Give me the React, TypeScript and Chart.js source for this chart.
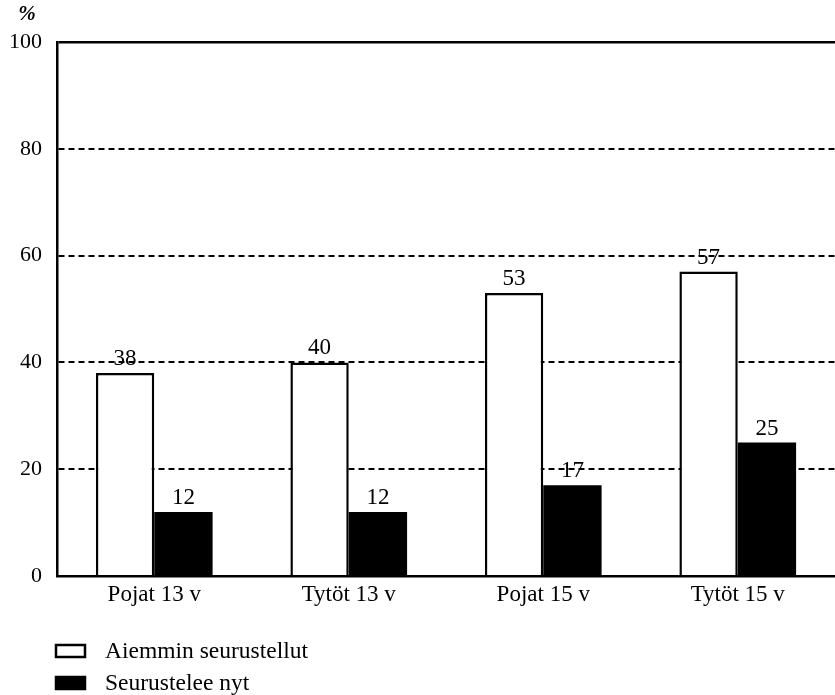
import React, { useEffect, useRef } from "react";
import { Chart, registerables } from "chart.js";

Chart.register(...registerables);

const categories = ["Pojat 13 v", "Tytöt 13 v", "Pojat 15 v", "Tytöt 15 v"];
const seriesNames = ["Aiemmin seurustellut", "Seurustelee nyt"];
const earlier = [38, 40, 53, 57];
const now = [12, 12, 17, 25];
const yTicks = [0, 20, 40, 60, 80, 100];
const unitLabel = "%";

const FONT = "'Liberation Serif', 'Times New Roman', serif";

const valueLabels = {
  id: "valueLabels",
  afterDatasetsDraw(chart: any) {
    const ctx = chart.ctx;
    ctx.save();
    ctx.fillStyle = "#000";
    ctx.font = `23px ${FONT}`;
    ctx.textAlign = "center";
    ctx.textBaseline = "alphabetic";
    chart.data.datasets.forEach((ds: any, di: number) => {
      const meta = chart.getDatasetMeta(di);
      meta.data.forEach((bar: any, i: number) => {
        ctx.fillText(String(ds.data[i]), bar.x, bar.y - 8);
      });
    });
    ctx.restore();
  },
};

const customLegend = {
  id: "customLegend",
  afterDraw(chart: any) {
    const ctx = chart.ctx;
    ctx.save();
    ctx.fillStyle = "#000";
    ctx.font = `bold italic 21px ${FONT}`;
    ctx.textAlign = "center";
    ctx.textBaseline = "middle";
    ctx.fillText(unitLabel, 27, 15);

    const rows = [651, 683];
    chart.data.datasets.forEach((ds: any, di: number) => {
      const cy = rows[di];
      ctx.fillStyle = ds.backgroundColor;
      ctx.fillRect(56, cy - 6, 29, 12);
      ctx.strokeStyle = "#000";
      ctx.lineWidth = 2.5;
      ctx.strokeRect(56, cy - 6, 29, 12);
      ctx.fillStyle = "#000";
      ctx.font = `23.5px ${FONT}`;
      ctx.textAlign = "left";
      ctx.textBaseline = "middle";
      ctx.fillText(ds.label, 105, cy + 1);
    });
    ctx.restore();
  },
};

export default function App() {
  const ref = useRef<HTMLCanvasElement | null>(null);

  useEffect(() => {
    if (!ref.current) return;
    Chart.defaults.color = "#000";
    const chart = new Chart(ref.current, {
      type: "bar",
      data: {
        labels: categories,
        datasets: [
          {
            label: seriesNames[0],
            data: earlier,
            backgroundColor: "#ffffff",
            borderColor: "#000000",
            borderWidth: 2.5,
            borderSkipped: "bottom",
          },
          {
            label: seriesNames[1],
            data: now,
            backgroundColor: "#000000",
            borderColor: "#000000",
            borderWidth: 0,
            borderSkipped: "bottom",
          },
        ],
      },
      options: {
        responsive: false,
        animation: false,
        layout: { padding: { top: 42, left: 0, right: 0, bottom: 0 } },
        datasets: {
          bar: { categoryPercentage: 0.6, barPercentage: 1 },
        },
        plugins: {
          legend: { display: false },
          tooltip: { enabled: false },
          title: { display: false },
        },
        scales: {
          x: {
            grid: { display: false, drawTicks: false },
            border: { display: true, color: "#000", width: 2.5 },
            ticks: {
              color: "#000",
              padding: 5,
              font: { family: FONT, size: 23 },
            },
            afterFit(scale: any) {
              scale.height = 119;
            },
          },
          y: {
            min: 0,
            max: 100,
            afterBuildTicks(scale: any) {
              scale.ticks = yTicks.map((v) => ({ value: v }));
            },
            grid: {
              drawTicks: false,
              lineWidth: (c: any) => (c.tick && c.tick.value === 100 ? 2.5 : 2),
              color: (c: any) =>
                c.tick && c.tick.value === 0 ? "rgba(0,0,0,0)" : "#000",
            },
            border: {
              display: true,
              color: "#000",
              width: 2.5,
              dash: (c: any) =>
                c.tick && c.tick.value !== 100 ? [6, 4] : [],
            },
            ticks: {
              color: "#000",
              padding: 15,
              font: { family: FONT, size: 22 },
            },
            afterFit(scale: any) {
              scale.width = 57;
            },
          },
        },
      },
      plugins: [valueLabels, customLegend],
    });
    return () => chart.destroy();
  }, []);

  return (
    <div style={{ position: "absolute", left: 0, top: 0, width: 835, height: 695, background: "#fff" }}>
      <canvas ref={ref} width={835} height={695} style={{ display: "block" }} />
    </div>
  );
}
